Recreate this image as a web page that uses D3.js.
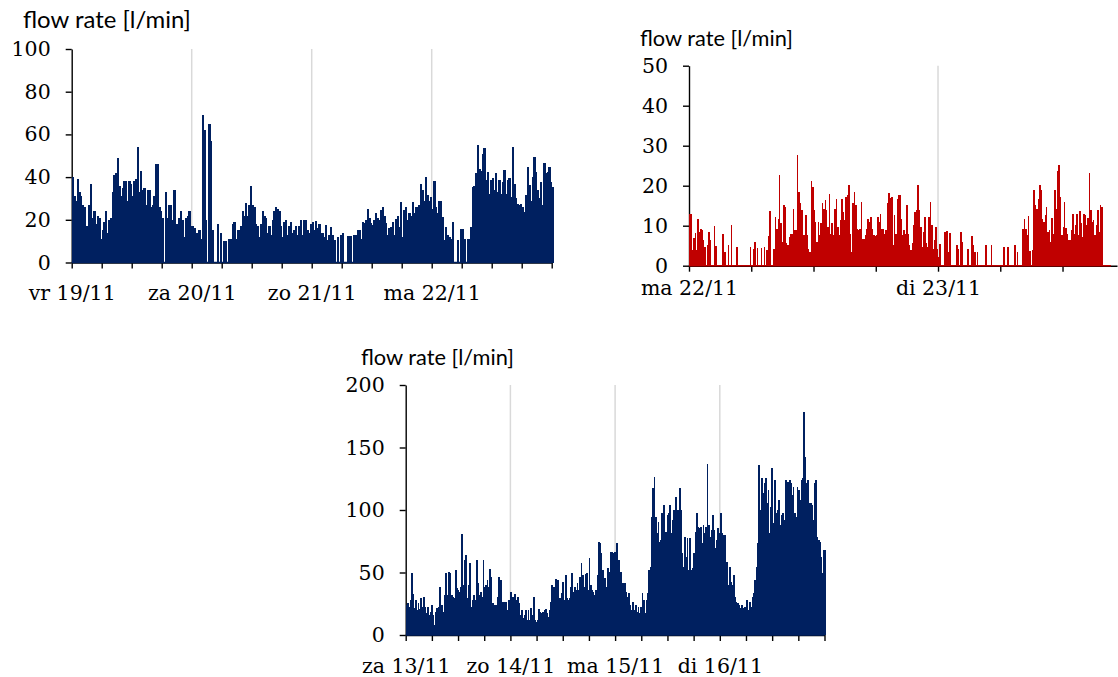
<!DOCTYPE html>
<html><head><meta charset="utf-8">
<script src="https://cdn.jsdelivr.net/npm/d3@7/dist/d3.min.js"></script>
<style>
body{margin:0;background:#fff}
svg{display:block}
.tick text{font-family:"DejaVu Serif",serif;font-size:20.5px;fill:#000}
.ttl{font-family:Lato,"Open Sans",sans-serif;fill:#000}
</style>
</head><body>
<svg id="c" width="1118" height="677"></svg>
<script>
// ---------- DATA ----------
// Chart A (top-left): 4 days from vr 19/11, one value every 20 min [l/min]
const daysA = ["vr 19/11","za 20/11","zo 21/11","ma 22/11"];
const yTicksA = [0,20,40,60,80,100];
const flowA = [
40,31,29,39,33,31,27,26,17,17, 27,37,21,24,18,22,21,11,15,19,
24,14,20,21,33,41,42,49,36,31, 35,38,38,29,38,37,31,38,39,54,
33,43,34,35,27,34,34,26,27,31, 46,46,26,24,21,0,33,21,27,27,
20,34,18,18,21,24,20,12,21,22, 24,17,17,16,14,14,15,11,69,62,
20,0,65,57,15,0,0,18,0,14, 0,10,10,0,11,11,18,19,11,15,
15,17,24,22,28,22,27,36,27,26, 18,17,12,18,24,22,21,14,17,13,
20,24,26,25,24,17,12,19,20,13, 17,19,14,15,17,13,17,20,13,20,
20,15,14,18,19,
15,19.5,16,18,13.6,13.6,12,17.5,10.5,12.8, 16.7,12.8,10.5,0,12,0,12.8,14,0,0,
12.2,12.2,12.2,0,13,13,15.2,15.2,11.2,19, 18.3,19.8,25,21,18.3,17.5,19.8,23,21,19.8,
24.5,26,22,18.3,12.8,16,16.7,19,12.8,20.6, 22,16.7,28.4,12,24.5,26,19.8,23,22,28.4,
23,26,26,27,37,34,29,40,31.6,29, 30.5,25,38,26,23,29,29,21.4,10.5,16.7,
12.8,12,11,19,0,0,10.5,0,15.6,15.6, 11,0,11,11,16.7,35.5,36,41.7,55,44,
43,51,53.4,38.6,42.5,32.3,38.6,39.4,34,41.7, 33,38.6,32.3,37.8,43.3,32.3,38.6,39.4,30.8,54,
37,30,27.6,26.9,27.6,26,23.7,31.6,44.8,36.2, 29,40,49.5,42.5,33.9,30,37.8,26.9,46.4,41.7,
42.5,44.8,37.8,35.5
];

// Chart B (top-right): from ma 22/11, one value every 8 min [l/min]
const daysB = ["ma 22/11","di 23/11"];
const yTicksB = [0,10,20,30,40,50];
const flowB = [
13,13,4,7,8.3,4,11.7,8.5,9.3,9, 6.4,4.75,0,5.3,8.5,6.4,0,0,10,5,
0,0,0,0,8,3.5,3.5,0,5.2,0, 10.3,0,0,0,4.75,0,0,0,0,0,
0,0,0,0,4.6,0,4.2,6,0,4.5, 0,0,4.5,0,4.75,0,4,7.4,13.7,0,
0,4.3,12.25,9.3,11.7,22.8,10.6,6,15.2,14.75, 5.6,5.2,7.25,8,8,14.3,8.9,8.9,27.8,18.5,
15.6,13.9,7.7,7.7,12.7,7.7,4.3,3.5,21.2,19.75, 13.9,11,6,11,7.7,10.6,15.6,14.3,16.4,13.9,
9.75,18,8,10.6,7.7,14.3,16.8,9.75,7.7,11.4, 16.8,13.5,11.4,17.25,17.7,20.3,8,3.5,15.6,18.5,
15.2,9.3,8.9,9.3,16,6.8,6.8,7.7,9.3,11.7, 11,12.25,9.3,7.7,7.5,7.7,12.25,11,13,9.3,
9.3,8,8.9,15.6,18.25,17,17.25,5.2,12.7,8, 16.8,17.7,17.7,11.8,7.8,8.9,8,15.2,8,5.2,
3.9,5.6,10.2,13.5,13.9,20.3,13.9,9.75,4.75,8.5, 12.25,5.6,4.75,12.25,16,10.2,4.3,6.4,9.75,4.3,
2.25,5.4,0,0,8.5,8.5,8.7,3.5,8.3,0, 0,0,0,5.3,4.3,0,8.5,6,0,0,
0,4.2,0,0,7.5,5.2,3.5,0,3.5,0, 0,0,0,0,5.2,0,0,0,5.2,0,
0,0,0,0,0,0,0,4.75,0,0, 4.75,0,0,0,0,5.2,0,3.5,0,0,
0,9.3,11.7,9.3,7.7,12.5,3.7,0,3.9,18.9, 15.2,14.3,16.8,20.3,18.9,11.8,11,12.7,14.75,8.5,
8.9,6,12,8,18.9,14.3,23.7,25.2,17.25,7.7, 9.75,16,9.5,8,6.4,6.4,8.9,13,8,10.2,
13,7.7,13.7,10.6,7.25,13,12.7,10.2,12,23.3, 13.9,11,11.4,7.8,10.2,13.9,8.5,15.2,14.75,0,
0,0,0,0,0,0
];

// Chart C (bottom): 4 days from za 13/11 [l/min]
const daysC = ["za 13/11","zo 14/11","ma 15/11","di 16/11"];
const yTicksC = [0,50,100,150,200];
const flowC = [
24,25.3,22.7,28,50,33,21.3,28,20,25.3, 20.5,29.3,22.7,30.7,22.7,17.3,22.7,16,18.7,24,
16,8,18.7,21.3,22.7,38.7,21.3,24,18.7,32, 49.3,32,50.7,49.3,32,30.7,29.3,52,37.3,36,
34.7,38.7,80.8,40,60,64,29.3,40,57.3,22.7, 28,32,28,60,41.3,32,34.7,30.7,60,38.7,
40,44,38.7,52.5,46.7,25.3,24,24,24,30.7, 46.7,44,24,26.7,26.7,26.7,20,28,20,34.7,
30.7,28,32.8,28,30.7,25.3,16,20,13.3,16, 20,12,20,12,21.3,16,30.1,12,10.7,12,
20.5,18.7,17.3,18.7,20,20.5,17.3,14.7,20,26.7, 40,38.7,32,44.5,44,28,29.3,33.9,42.7,28,
48,29.3,28,29.3,38.7,49.3,34.7,38.7,36,41.3, 36,46.7,57.3,48,38.7,48.8,49.3,36,62,40,
36,34.7,32,36,48,74.7,73.3,65.3,52,42.7, 45.3,38.7,53.3,50.7,66.7,66.7,65.3,66.7,
62.7,73.3,60,45.3,50.7,41.3,33.3,41.3,34.7,30.7, 33.3,24,20,26.7,20,24,18.7,22.7,17.3,22.7,
33.3,28,17.3,28,33.3,52,54.7,94.7,117.3,126.7, 94.7,81.3,90.7,74.7,76,97.3,104,76,82.7,96,
97.3,104,81.3,92,100,110.7,84,100,117.3,100, 65.3,54.7,78.7,62.7,77.3,52,77.3,52,53.3,65.3,
82.7,97.3,86.7,85.3,86.7,73.3,88,81.3,86.7,136.8, 88,78.7,84,96,84,69.3,76,85.3,81.3,97.3,
81.3,80,80,49.3,58.7,40,54.7,42.7,40,48, 30.7,26.7,25.3,24,21.3,24,21.3,22.7,22.7,28,
20,26.7,22.7,30.7,33.3,44,54.7,73.3,136,100, 125.3,113.3,121.3,125.3,105.3,116,81.3,102.7,133.3,89.3,
124,97.3,100,108,88,96,97.3,92,124,118.7, 122.7,124,121.3,112,118.7,97.3,94.7,118.7,116,108,
124,125.3,178.7,142.7,121.3,124,105.3,105.3,104,92, 121.3,124,78.7,76,74.7,62.7,49.3,68,68
];

// ---------- DRAWING ----------
const svg = d3.select("#c");

function chart(o) {
  const g = svg.append("g");
  const yMax = o.yTicks[o.yTicks.length-1];
  const x = d3.scaleLinear().domain([0, o.axisHours]).range([o.left, o.right]);
  const y = d3.scaleLinear().domain([0, yMax]).range([o.bottom, o.top]);

  // gridlines at day boundaries
  const grid = d3.range(24, o.axisHours, 24);
  g.selectAll(".grid").data(grid).enter().append("line")
    .attr("x1", d => x(d)).attr("x2", d => x(d))
    .attr("y1", y(yMax)).attr("y2", y(0))
    .attr("stroke", "#d9d9d9").attr("stroke-width", 1.5);

  // axes
  const xt = d3.range(0, o.axisHours + 0.001, 6);
  const xa = g.append("g").attr("transform", `translate(0,${o.bottom})`)
    .call(d3.axisBottom(x).tickValues(xt).tickSize(6).tickSizeOuter(0).tickPadding(o.xPad)
      .tickFormat(d => (d % 24 === 0 && o.days[d/24]) ? o.days[d/24] : ""));
  const ya = g.append("g").attr("transform", `translate(${o.left},0)`)
    .call(d3.axisLeft(y).tickValues(o.yTicks).tickSize(6).tickSizeOuter(0).tickPadding(15)
      .tickFormat(d3.format("d")));
  [xa, ya].forEach(a => {
    a.select(".domain").attr("stroke", "#000").attr("stroke-width", 1.4);
    a.selectAll(".tick line").attr("stroke", "#000").attr("stroke-width", 1.4);
  });

  // data: one thin column per sample
  const n = o.values.length;
  const step = (x(o.dataHours) - x(0)) / (n - 1);
  const tx = i => x(i * o.dataHours / (n - 1));
  g.append("line").attr("x1", tx(0)).attr("x2", tx(n - 1))
    .attr("y1", y(0)).attr("y2", y(0)).attr("stroke", o.color).attr("stroke-width", 1.4);
  g.append("g").attr("shape-rendering", "crispEdges")
    .selectAll("rect").data(o.values).enter().append("rect")
    .attr("x", (d, i) => tx(i))
    .attr("width", step * o.barFrac)
    .attr("y", d => y(d))
    .attr("height", d => y(0) - y(d))
    .attr("fill", o.color);

  // title
  const t = g.append("text").attr("class", "ttl").attr("x", o.titleX).attr("y", o.titleY)
    .style("font-size", "24px").text("flow rate [l/min]");
  const w = t.node().getComputedTextLength();
  t.style("font-size", (24 * o.titleW / w) + "px");
}

chart({left: 71.7, right: 551.7, top: 49, bottom: 262.5, axisHours: 96, dataHours: 96,
  yTicks: yTicksA, days: daysA, values: flowA, color: "#002060", xPad: 17, barFrac: 1.35,
  titleX: 23, titleY: 28, titleW: 168});

chart({left: 689, right: 1117, top: 65.7, bottom: 265.7, axisHours: 41.25, dataHours: 305 * 8 / 60,
  yTicks: yTicksB, days: daysB, values: flowB, color: "#C00000", xPad: 9, barFrac: 1.1,
  titleX: 640, titleY: 46, titleW: 153});

chart({left: 405.7, right: 824.5, top: 385, bottom: 635, axisHours: 96, dataHours: 96,
  yTicks: yTicksC, days: daysC, values: flowC, color: "#002060", xPad: 17, barFrac: 1.35,
  titleX: 361, titleY: 365, titleW: 153});
</script>
</body></html>
